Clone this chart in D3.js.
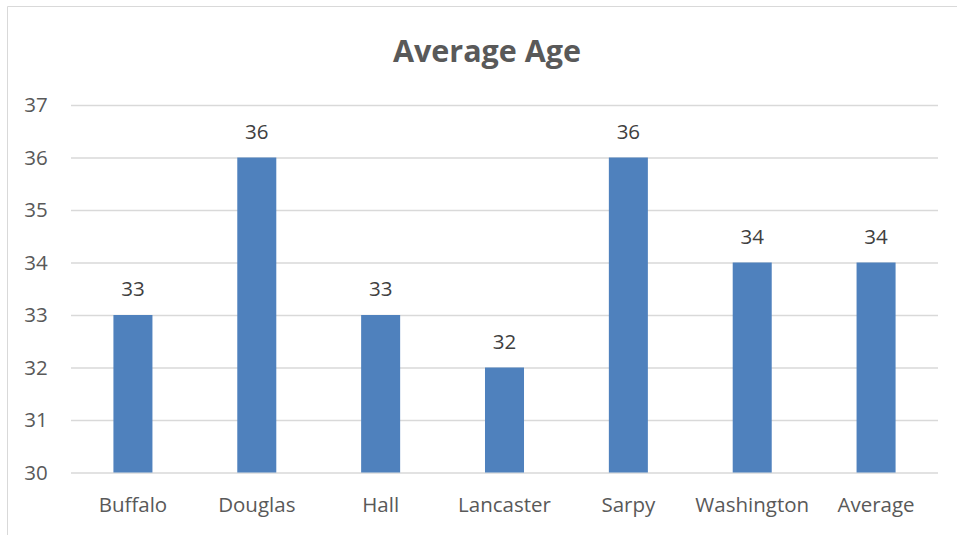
<!DOCTYPE html>
<html>
<head>
<meta charset="utf-8">
<script src="https://cdn.jsdelivr.net/npm/d3@7"></script>
<style>
  body { margin: 0; background: #fff; }
  svg { display: block; font-family: "Open Sans", "Noto Sans", sans-serif; }
</style>
</head>
<body>
<svg id="chart" width="957" height="535"></svg>
<script>
// counties and their average age
const counties = ["Buffalo", "Douglas", "Hall", "Lancaster", "Sarpy", "Washington", "Average"]
const avgAge = [33, 36, 33, 32, 36, 34, 34]
const yTicks = [30, 31, 32, 33, 34, 35, 36, 37]
const chartTitle = "Average Age"

const width = 957, height = 535
const margin = {top: 105, right: 19, bottom: 62, left: 71}
const labelSize = 20.5

const svg = d3.select("#chart")

// chart frame (only left and top edges show in the crop)
svg.append("path")
  .attr("d", `M7.5,${height} V6.5 H${width}`)
  .attr("fill", "none")
  .attr("stroke", "#d9d9d9")
  .attr("stroke-width", 1)

svg.append("text")
  .attr("x", 487)
  .attr("y", 62)
  .attr("text-anchor", "middle")
  .attr("fill", "#595959")
  .attr("font-size", 30.5)
  .attr("font-weight", "bold")
  .text(chartTitle)

let x = d3.scaleBand()
  .domain(counties)
  .range([margin.left, width - margin.right])
  .paddingInner(0.685)
  .paddingOuter(0.3425)

let y = d3.scaleLinear()
  .domain([30, 37])
  .range([height - margin.bottom - 0.5, margin.top])

//gridlines + y labels
svg.append("g")
  .attr("transform", `translate(${margin.left},0)`)
  .call(d3.axisLeft(y)
    .tickValues(yTicks)
    .tickSize(-(width - margin.left - margin.right))
    .tickFormat(d3.format("d")))
  .call(g => g.select(".domain").remove())
  .call(g => g.selectAll(".tick line").attr("stroke", "#d9d9d9").attr("stroke-width", 1.3))
  .call(g => g.selectAll(".tick text")
    .attr("fill", "#595959")
    .style("font-size", labelSize + "px")
    .style("font-family", "\"Open Sans\", sans-serif")
    .attr("x", -35)
    .attr("text-anchor", "middle"))

svg.append("g")
  .selectAll("rect")
  .data(counties)
  .join("rect")
  .attr("x", d => x(d))
  .attr("width", x.bandwidth())
  .attr("y", (d, i) => y(avgAge[i]))
  .attr("height", (d, i) => y(30) - y(avgAge[i]))
  .attr("fill", "#4f81bd")

//value labels
svg.append("g")
  .selectAll("text")
  .data(counties)
  .join("text")
  .attr("x", d => x(d) + x.bandwidth() / 2)
  .attr("y", (d, i) => y(avgAge[i]) - 19)
  .attr("text-anchor", "middle")
  .attr("fill", "#404040")
  .style("font-size", labelSize + "px")
  .text((d, i) => avgAge[i])

//category axis
svg.append("g")
  .attr("transform", `translate(0,${y(30)})`)
  .call(d3.axisBottom(x).tickSize(0))
  .call(g => g.select(".domain").remove())
  .call(g => g.selectAll(".tick text")
    .attr("y", 39)
    .attr("dy", null)
    .attr("fill", "#595959")
    .style("font-size", labelSize + "px")
    .style("font-family", "\"Open Sans\", sans-serif"))
</script>
</body>
</html>
